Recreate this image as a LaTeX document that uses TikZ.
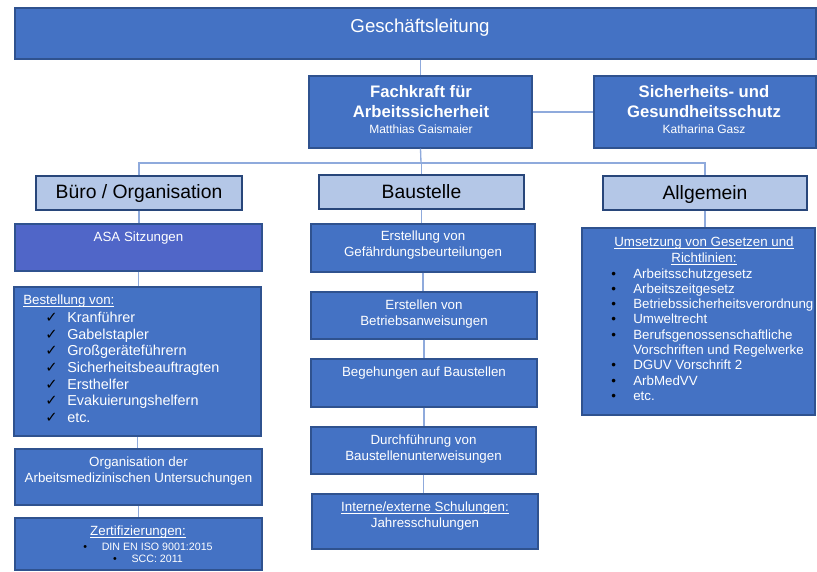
\documentclass[tikz,border=0pt]{standalone}
\usepackage{fontspec}
\setmainfont{Liberation Sans}
\newfontfamily\checkfont{DejaVu Sans}
\usetikzlibrary{fit}

\definecolor{boxblue}{RGB}{68,114,196}
\definecolor{asablue}{RGB}{80,102,200}
\definecolor{catblue}{RGB}{180,199,231}
\definecolor{edgeblue}{RGB}{47,82,143}
\definecolor{lineblue}{RGB}{143,170,220}

\newcommand{\chk}{\makebox[16.5pt][l]{\textcolor{black}{\checkfont\fontsize{11}{12}\selectfont ✓}}}
\newcommand{\bul}{\makebox[16.5pt][l]{\textcolor{black}{\textbullet}}}
\newcommand{\nobul}{\makebox[16.5pt]{}}
\newcommand{\ul}[1]{\setbox0\hbox{#1}\rlap{\rule[-1.6pt]{\wd0}{0.5pt}}\box0}

\tikzset{
  box/.style={draw=edgeblue, line width=0.8pt, fill=boxblue, inner sep=0pt},
  catbox/.style={draw=edgeblue!85!black, line width=1pt, fill=catblue, inner sep=0pt},
  cattxt/.style={inner sep=0pt, font=\fontsize{14.5}{17}\selectfont},
  txt/.style={text=white, inner sep=0pt, align=center, font=\fontsize{10}{12}\selectfont},
  conn/.style={draw=lineblue, line width=1pt}
}

\begin{document}
\begin{tikzpicture}[x=0.75pt, y=-0.75pt]
  \useasboundingbox (0,0) rectangle (817,571);

  % draw top level
  \node[box, fit={(15,8) (816,59)}] (gl) {};
  \node[txt, anchor=north, font=\fontsize{14}{17}\selectfont] (t-gl) at (420,18.5) {Geschäftsleitung};

  \node[box, fit={(309,76) (532,148)}] (fk) {};
  \node[txt, anchor=north, font=\bfseries\fontsize{12.5}{15}\selectfont] (t-fk) at (421,85) {Fachkraft für\\Arbeitssicherheit};
  \node[txt, anchor=base, font=\fontsize{9}{11}\selectfont] (n-fk) at (421,133.3) {Matthias Gaismaier};

  \node[box, fit={(594,76) (816,148)}] (sg) {};
  \node[txt, anchor=north, font=\bfseries\fontsize{12.5}{15}\selectfont] (t-sg) at (704,85) {Sicherheits- und\\Gesundheitsschutz};
  \node[txt, anchor=base, font=\fontsize{9}{11}\selectfont] (n-sg) at (704,133.3) {Katharina Gasz};

  % draw categories
  \node[catbox, fit={(36,176) (242,210)}] (buero) {};
  \node[cattxt, anchor=base] (t-buero) at (139,198.5) {Büro / Organisation};
  \node[catbox, fit={(319,175) (524,209)}] (bau) {};
  \node[cattxt, anchor=base] (t-bau) at (421.5,198) {Baustelle};
  \node[catbox, fit={(603,176) (807,210)}] (allg) {};
  \node[cattxt, anchor=base] (t-allg) at (705,199) {Allgemein};

  % draw left column
  \node[box, fill=asablue, fit={(15,224) (262,271)}] (asa) {};
  \node[txt, anchor=north] (t-asa) at (138.5,231.5) {ASA Sitzungen};

  \node[box, fit={(14,287) (261,436)}] (best) {};
  \node[txt, anchor=north west] (t-best) at (23,294.3) {\ul{Bestellung von:}};
  \node[txt, anchor=north west, align=left, font=\fontsize{10.8}{12.5}\selectfont] (l-best) at (45,311.7)
    {\chk Kranführer\\ \chk Gabelstapler\\ \chk Großgeräteführern\\ \chk Sicherheitsbeauftragten\\
     \chk Ersthelfer\\ \chk Evakuierungshelfern\\ \chk etc.};

  \node[box, fit={(15,449) (262,505)}] (org) {};
  \node[txt, anchor=north] (t-org) at (138.5,456.7) {Organisation der\\Arbeitsmedizinischen Untersuchungen};

  \node[box, fit={(15,518) (262,570)}] (zert) {};
  \node[txt, anchor=north] (t-zert) at (138,525.7) {\ul{Zertifizierungen:}};
  \node[txt, anchor=north, font=\fontsize{8}{9.2}\selectfont] (l-zert) at (148,542.7)
    {\textcolor{black}{\textbullet}\hspace{11pt}DIN EN ISO 9001:2015\\ \textcolor{black}{\textbullet}\hspace{11pt}SCC: 2011};

  % draw middle column
  \node[box, fit={(311,224) (535,272)}] (gef) {};
  \node[txt, anchor=north] (t-gef) at (423,231) {Erstellung von\\Gefährdungsbeurteilungen};

  \node[box, fit={(311,292) (537,339)}] (betr) {};
  \node[txt, anchor=north] (t-betr) at (424,300) {Erstellen von\\Betriebsanweisungen};

  \node[box, fit={(311,359) (537,407)}] (beg) {};
  \node[txt, anchor=north] (t-beg) at (424,366.7) {Begehungen auf Baustellen};

  \node[box, fit={(311,427) (536,474)}] (durch) {};
  \node[txt, anchor=north] (t-durch) at (423.5,435) {Durchführung von\\Baustellenunterweisungen};

  \node[box, fit={(312,494) (538,549)}] (schul) {};
  \node[txt, anchor=north] (t-schul) at (425,501.7) {\ul{Interne/externe Schulungen:}\\Jahresschulungen};

  % draw right column
  \node[box, fit={(582,228) (815,415)}] (umsetz) {};
  \node[txt, anchor=north] (t-umsetz) at (704,236.7) {\ul{Umsetzung von Gesetzen und}\\\ul{Richtlinien:}};
  \node[txt, anchor=north west, align=left, font=\fontsize{10}{11.44}\selectfont] (l-umsetz) at (611,268.3)
    {\bul Arbeitsschutzgesetz\\ \bul Arbeitszeitgesetz\\ \bul Betriebssicherheitsverordnung\\
     \bul Umweltrecht\\ \bul Berufsgenossenschaftliche\\ \nobul Vorschriften und Regelwerke\\
     \bul DGUV Vorschrift 2\\ \bul ArbMedVV\\ \bul etc.};

  % draw connectors
  \coordinate (bus) at (421,163);
  \draw[conn] (fk.north |- gl.south) -- (fk.north);
  \draw[conn] (fk.east) -- (sg.west);
  \draw[conn] (fk.south) -- (bus);
  \draw[conn] (buero.north) |- (bus) -| (allg.north);
  \draw[conn] (bau.north |- bus) -- (bau.north);
  \foreach \a/\b in {buero/asa, asa/best, best/org, org/zert, bau/gef, gef/betr, betr/beg, beg/durch, durch/schul, allg/umsetz}
    \draw[conn] (\a.south) -- (\a.south |- \b.north);
\end{tikzpicture}
\end{document}
